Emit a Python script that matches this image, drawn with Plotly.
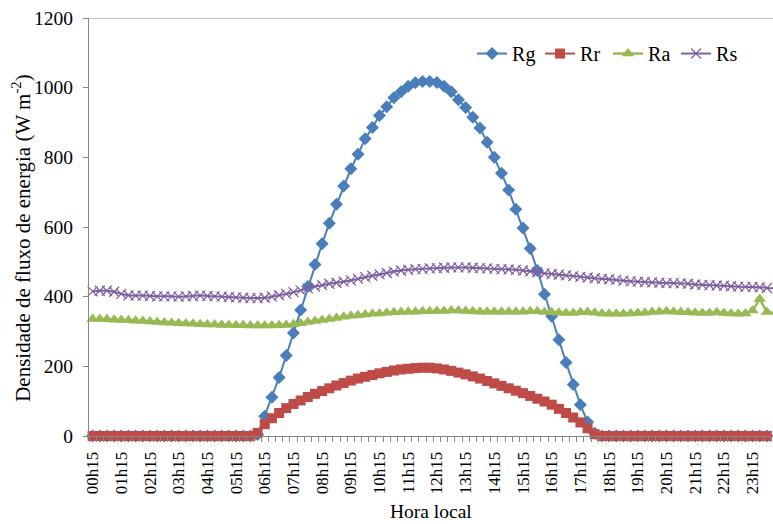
import plotly.graph_objects as go

# 15-minute steps from 00h15 to 24h00 (96 categories)
horas = ["%02dh%02d" % (((k + 1) * 15) // 60, ((k + 1) * 15) % 60) for k in range(96)]
tick_labels = ["00h15", "01h15", "02h15", "03h15", "04h15", "05h15", "06h15", "07h15",
               "08h15", "09h15", "10h15", "11h15", "12h15", "13h15", "14h15", "15h15",
               "16h15", "17h15", "18h15", "19h15", "20h15", "21h15", "22h15", "23h15"]

Rg = [0, 0, 0, 0, 0, 0, 0, 0, 0, 0, 0, 0,
      0, 0, 0, 0, 0, 0, 0, 0, 0, 0, 0, 4,
      57, 111, 168, 231, 296, 362, 429, 492, 552, 611, 665, 718,
      767, 809, 853, 886, 920, 945, 971, 988, 1004, 1014, 1018, 1018,
      1015, 1004, 988, 965, 943, 915, 884, 843, 800, 754, 706, 651,
      597, 538, 475, 407, 344, 276, 211, 148, 90, 40, 8, 0,
      0, 0, 0, 0, 0, 0, 0, 0, 0, 0, 0, 0,
      0, 0, 0, 0, 0, 0, 0, 0, 0, 0, 0, 0]

Rr = [0, 0, 0, 0, 0, 0, 0, 0, 0, 0, 0, 0,
      0, 0, 0, 0, 0, 0, 0, 0, 0, 0, 0, 9,
      34, 51, 66, 80, 92, 102, 112, 121, 129, 137, 145, 152,
      159, 165, 170, 175, 180, 184, 188, 191, 193, 195, 196, 196,
      194, 191, 187, 182, 177, 171, 165, 158, 151, 144, 137, 130,
      123, 115, 107, 99, 90, 78, 66, 53, 39, 22, 5, 0,
      0, 0, 0, 0, 0, 0, 0, 0, 0, 0, 0, 0,
      0, 0, 0, 0, 0, 0, 0, 0, 0, 0, 0, 0]

Ra = [336, 336, 335, 334, 333, 332, 331, 330, 329, 327, 326, 325,
      324, 323, 322, 321, 320, 320, 319, 319, 318, 318, 317, 317,
      317, 317, 318, 319, 321, 324, 327, 330, 333, 336, 339, 342,
      345, 347, 349, 351, 352, 354, 355, 356, 357, 357, 358, 358,
      359, 359, 360, 360, 359, 358, 357, 357, 357, 357, 357, 357,
      357, 358, 358, 356, 355, 354, 353, 353, 355, 356, 354, 352,
      351, 351, 351, 352, 353, 354, 356, 357, 358, 357, 356, 355,
      354, 353, 353, 355, 353, 352, 351, 352, 360, 393, 356, 353]

Rs = [415, 417, 417, 414, 408, 404, 403, 403, 402, 401, 401, 401,
      400, 401, 402, 403, 402, 401, 400, 399, 398, 397, 396, 396,
      397, 400, 404, 408, 413, 418, 424, 429, 433, 437, 440, 443,
      447, 451, 456, 460, 464, 468, 472, 475, 477, 479, 480, 481,
      482, 483, 484, 484, 484, 483, 482, 481, 480, 479, 478, 477,
      475, 473, 470, 467, 465, 463, 461, 459, 457, 455, 453, 451,
      450, 448, 446, 444, 443, 442, 441, 440, 439, 439, 438, 437,
      435, 434, 433, 432, 431, 430, 429, 428, 428, 427, 425, 424]

x = list(range(len(horas)))
tick_pos = [horas.index(t) for t in tick_labels]

FONT = "Liberation Serif, Times New Roman, serif"
AX = "#868686"

fig = go.Figure()
fig.add_trace(go.Scatter(x=x, y=Rg, name="Rg", mode="lines+markers", cliponaxis=False,
                         line=dict(color="#4A7EBB", width=2),
                         marker=dict(symbol="diamond", size=10, color="#4A7EBB")))
fig.add_trace(go.Scatter(x=x, y=Rr, name="Rr", mode="lines+markers", cliponaxis=False,
                         line=dict(color="#BE4B48", width=2),
                         marker=dict(symbol="square", size=10, color="#BE4B48")))
fig.add_trace(go.Scatter(x=x, y=Ra, name="Ra", mode="lines+markers", cliponaxis=False,
                         line=dict(color="#98B954", width=2.5),
                         marker=dict(symbol="triangle-up", size=11, color="#98B954")))
fig.add_trace(go.Scatter(x=x, y=Rs, name="Rs", mode="lines+markers", cliponaxis=False,
                         line=dict(color="#7D60A0", width=2, shape="spline"),
                         marker=dict(symbol="x-thin-open", size=10,
                                     line=dict(color="rgba(190,172,222,0.85)", width=1.2))))

fig.update_layout(
    width=773, height=524,
    margin=dict(l=89, r=0, t=17.5, b=87.5),
    paper_bgcolor="white", plot_bgcolor="white",
    font=dict(family=FONT, size=17, color="black"),
    showlegend=True,
    legend=dict(orientation="h", x=0.56, y=0.915, xanchor="left", yanchor="middle",
                font=dict(family=FONT, size=20), bgcolor="rgba(0,0,0,0)",
                entrywidth=23, tracegroupgap=0),
    xaxis=dict(range=[-0.5, 94.85], showgrid=False, zeroline=False,
               showline=True, linecolor=AX, linewidth=1,
               tickmode="array", tickvals=tick_pos, ticktext=tick_labels,
               tickangle=-90, ticks="", tickfont=dict(family=FONT, size=17),
               ticklabelstandoff=8,
               minor=dict(ticks="outside", ticklen=5, tickcolor=AX, tickwidth=1,
                          tickmode="linear", tick0=0.5, dtick=1, showgrid=False)),
    yaxis=dict(range=[0, 1200], tickvals=[0, 200, 400, 600, 800, 1000, 1200],
               showgrid=False, zeroline=False, showline=True, linecolor=AX, linewidth=1,
               ticks="outside", ticklen=5, tickcolor=AX,
               tickfont=dict(family=FONT, size=19.5), ticklabelstandoff=6),
    shapes=[dict(type="line", xref="paper", yref="y", x0=0, x1=1, y0=1200, y1=1200,
                 line=dict(color=AX, width=1))],
    annotations=[
        dict(text="Densidade de fluxo de energia (W m<sup>-2</sup>)", textangle=-90,
             xref="paper", yref="paper", x=-0.098, y=0.474, xanchor="center", yanchor="middle",
             showarrow=False, font=dict(family=FONT, size=21)),
        dict(text="Hora local", xref="paper", yref="paper", x=0.5, y=-0.18,
             xanchor="center", yanchor="middle", showarrow=False,
             font=dict(family=FONT, size=19.5)),
    ],
)

fig.write_html("out.html")
